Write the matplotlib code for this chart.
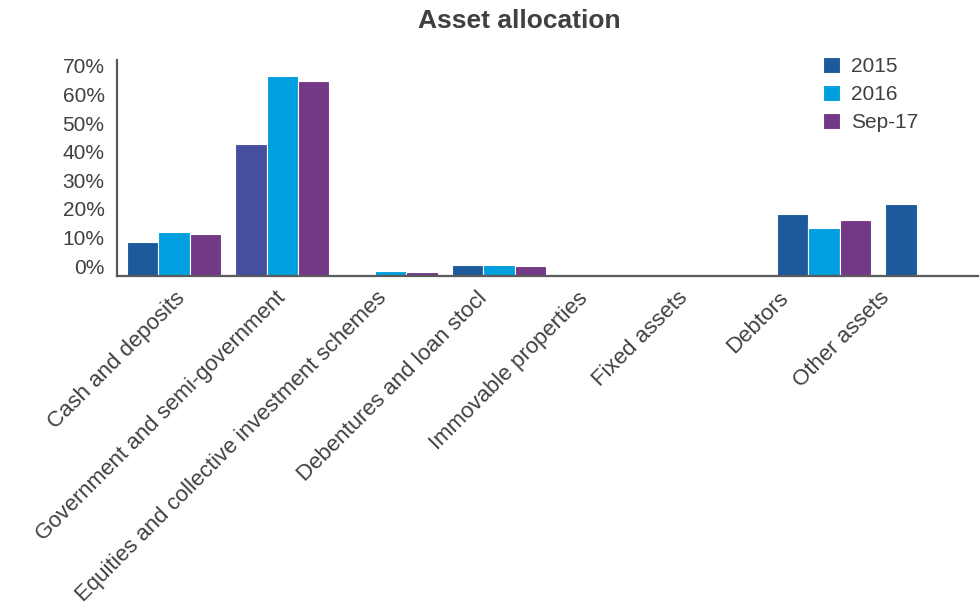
import numpy as np
import matplotlib
matplotlib.use('Agg')
import matplotlib.pyplot as plt
from matplotlib.transforms import ScaledTranslation

plt.rcParams['font.family'] = ['Liberation Sans', 'DejaVu Sans']

# data (% of total assets)
categories = ['Cash and deposits', 'Government and semi-government',
              'Equities and collective investment schemes', 'Debentures and loan stocl',
              'Immovable properties', 'Fixed assets', 'Debtors', 'Other assets']
series = ['2015', '2016', 'Sep-17']
v2015 = [11.6, 46.0, 0.0, 3.6, 0.0, 0.0, 21.4, 25.1]
v2016 = [15.2, 69.8, 1.5, 3.5, 0.0, 0.0, 16.7, 0.0]
vsep17 = [14.4, 68.0, 1.3, 3.3, 0.0, 0.0, 19.5, 0.0]
yticks = [0, 10, 20, 30, 40, 50, 60, 70]

c2015 = ['#1c5a9c', '#454f9e', '#1c5a9c', '#1c5a9c', '#1c5a9c', '#1c5a9c', '#1c5a9c', '#1c5a9c']
c2016 = '#009fdf'
csep = '#743986'
txt = '#404040'

fig = plt.figure(figsize=(9.8, 6.11), dpi=100)
ax = fig.add_axes([117/980, 1 - 275.5/611, (978-117)/980, (275.5-60)/611])

x = np.arange(len(categories))
w = 0.29
ax.bar(x - w, v2015, w, color=c2015, edgecolor='white', linewidth=0.8, label=series[0])
ax.bar(x, v2016, w, color=c2016, edgecolor='white', linewidth=0.8, label=series[1])
ax.bar(x + w, vsep17, w, color=csep, edgecolor='white', linewidth=0.8, label=series[2])

ax.set_xlim(-0.526, 7.42)
ax.set_ylim(0, 75.4)

for s in ['top', 'right']:
    ax.spines[s].set_visible(False)
for s in ['left', 'bottom']:
    ax.spines[s].set_color('#5a5a5a')
    ax.spines[s].set_linewidth(1.6)

ax.set_yticks(yticks)
ax.set_yticklabels([f'{t}%' for t in yticks])
ax.tick_params(axis='y', length=0, pad=9, labelsize=15, labelcolor=txt)
shift = ScaledTranslation(0, 0.095, fig.dpi_scale_trans)
for lab in ax.get_yticklabels():
    lab.set_transform(lab.get_transform() + shift)

# category labels sit a little left of the bar groups, as in the original
ax.set_xticks(0.076 + 0.9278 * x)
ax.set_xticklabels(categories)
ax.tick_params(axis='x', length=0, pad=14, labelsize=16, labelcolor=txt)
for lab in ax.get_xticklabels():
    lab.set(rotation=45, ha='right', va='center', rotation_mode='anchor')

fig.text(519/980, 1 - 21/611, 'Asset allocation', ha='center', va='center',
         fontsize=19, fontweight='bold', color=txt)

leg = ax.legend(loc='upper left', bbox_to_anchor=(823/980, 1 - 57/611),
                bbox_transform=fig.transFigure, frameon=False, fontsize=15,
                handlelength=0.8, handleheight=0.8, handletextpad=0.55,
                labelspacing=0.42, borderpad=0, borderaxespad=0)
for t in leg.get_texts():
    t.set_color(txt)

fig.savefig('out.png', dpi=100)
